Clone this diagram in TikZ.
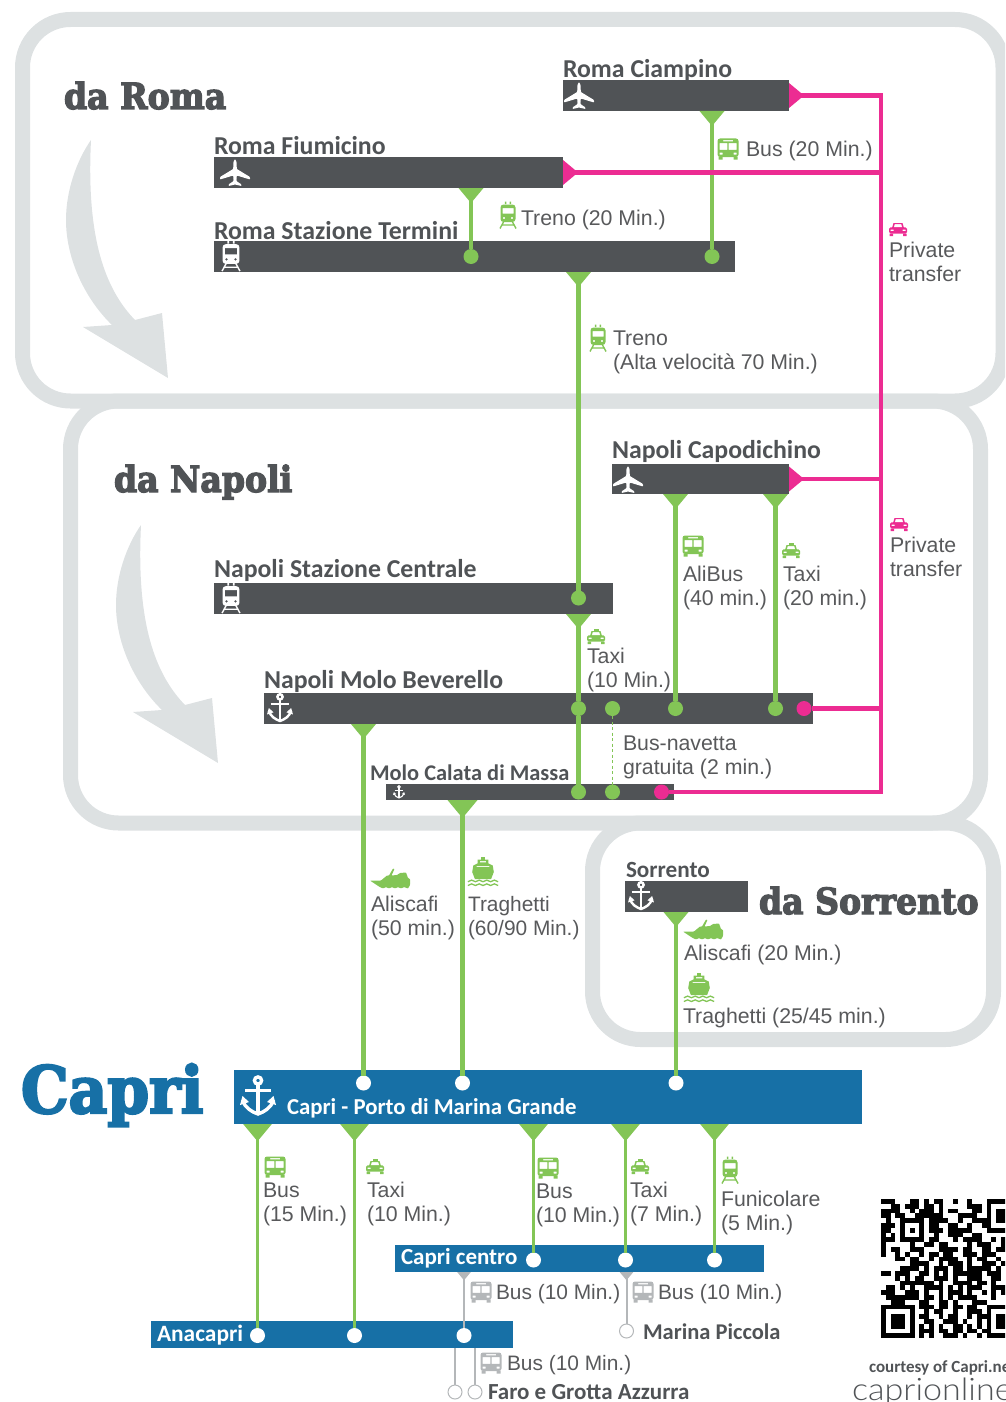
\documentclass[tikz,border=0pt]{standalone}
\usepackage{fontspec}
\setmainfont{Liberation Sans}
\newfontfamily\headfont{Carlito}
\newfontfamily\slabfont[FakeStretch=0.92, BoldFeatures={FakeBold=3.5}]{DejaVu Serif}
\newfontfamily\logofont[FakeStretch=1.1]{Lato Light}

\definecolor{panelgrey}{HTML}{DDE1E2}
\definecolor{bardark}{HTML}{505356}
\definecolor{portblue}{HTML}{1770A6}
\definecolor{routegreen}{HTML}{83C556}
\definecolor{transferpink}{HTML}{EC2C92}
\definecolor{linegrey}{HTML}{B4B7B9}
\definecolor{textgrey}{HTML}{58595B}

\tikzset{
    panel/.style = {draw = panelgrey, line width = 15pt, rounded corners = 48pt},
    bar/.style = {rectangle, inner sep = 0, outer sep = 0, fill = bardark, anchor = north west},
    bluebar/.style = {bar, fill = portblue},
    stopgreen/.style = {circle, inner sep = 0, outer sep = 0, minimum size = 15pt, fill = routegreen},
    stoppink/.style = {stopgreen, fill = transferpink},
    stopwhite/.style = {stopgreen, fill = white},
    stopring/.style = {stopgreen, fill = white, draw = linegrey, line width = 1pt, minimum size = 14pt},
    route/.style = {draw = routegreen, line width = 4.6pt},
    thinroute/.style = {draw = routegreen, line width = 2.6pt},
    greyroute/.style = {draw = linegrey, line width = 2pt},
    transfer/.style = {draw = transferpink, line width = 4.6pt},
    info/.style = {anchor = base west, inner sep = 0, outer sep = 0, align = left, text = textgrey,
        font = \fontsize{21.3pt}{24pt}\selectfont},
    infosmall/.style = {info, font = \fontsize{20.9pt}{24pt}\selectfont},
    stoplabel/.style = {anchor = base west, inner sep = 0, outer sep = 0, text = bardark,
        font = \fontsize{25.8pt}{30pt}\headfont\bfseries},
    smalllabel/.style = {stoplabel, font = \fontsize{#1}{28pt}\headfont\bfseries},
    portlabel/.style = {smalllabel = #1, text = white},
    title/.style = {anchor = base west, inner sep = 0, outer sep = 0, text = bardark,
        font = \fontsize{36pt}{40pt}\slabfont\bfseries},
    pics/tipdown/.style = {code = {\fill (-12.5, 0) -- (12.5, 0) -- (0, 15) -- cycle;}},
    pics/swoosh/.style = {code = {
        \fill (0, 0) .. controls (-14, 20) and (-25, 50) .. (-25, 80)
            .. controls (-25, 120) and (-5, 160) .. (21, 185)
            -- (-8, 187) -- (77, 238) -- (71, 173) -- (44, 180)
            .. controls (15, 150) and (-5, 100) .. (0, 0) -- cycle;}},
    pics/planeicon/.style = {code = {
        \fill[rounded corners = 0.8pt] (0, -14) -- (1.6, -11) -- (1.8, -4) -- (15, 4) -- (15, 6.5)
            -- (1.8, 2.5) -- (1.4, 8) -- (6.5, 11.5) -- (6.5, 13) -- (0, 11.5)
            -- (-6.5, 13) -- (-6.5, 11.5) -- (-1.4, 8) -- (-1.8, 2.5) -- (-15, 6.5)
            -- (-15, 4) -- (-1.8, -4) -- (-1.6, -11) -- cycle;}},
    pics/trainicon/.style = {code = {
        \fill[even odd rule] [rounded corners = 3pt] (-7.5, -10.5) rectangle (7.5, 7)
            [sharp corners] (-5.5, -7) rectangle (5.5, -1.5)
            (-4, 3) circle (1.3) (4, 3) circle (1.3);
        \fill (-3.2, -13.5) rectangle (-1.6, -11) (1.6, -13.5) rectangle (3.2, -11);
        \draw[line width = 1.4pt] (-4.5, 7) -- (-8, 13.5) (4.5, 7) -- (8, 13.5) (-6, 10) -- (6, 10);}},
    pics/busicon/.style = {code = {
        \fill[even odd rule] [rounded corners = 2.5pt] (-10.5, -10.5) rectangle (10.5, 8)
            [sharp corners] (-8.5, -6) rectangle (-0.6, 0.8) (0.6, -6) rectangle (8.5, 0.8)
            (-5, -9) rectangle (5, -7.6) (-8.5, 3.5) rectangle (-5.5, 5.5) (5.5, 3.5) rectangle (8.5, 5.5);
        \fill (-9.5, 8) rectangle (-5.5, 10.5) (5.5, 8) rectangle (9.5, 10.5);}},
    pics/caricon/.style = {code = {
        \fill[even odd rule] (-6, -1) -- (-4.5, -6) -- (4.5, -6) -- (6, -1) -- cycle
            (-4.2, -1.6) -- (-3.3, -4.8) -- (3.3, -4.8) -- (4.2, -1.6) -- cycle;
        \fill[even odd rule] [rounded corners = 1.5pt] (-9, -1.6) rectangle (9, 4.5)
            [sharp corners] (-7.5, 0.5) rectangle (-4.5, 2.2) (4.5, 0.5) rectangle (7.5, 2.2);
        \fill (-8.5, 4.5) rectangle (-5, 7) (5, 4.5) rectangle (8.5, 7);}},
    pics/taxiicon/.style = {code = {
        \pic {caricon};
        \fill (-2.5, -8) rectangle (2.5, -6);}},
    pics/hydroicon/.style = {code = {
        \fill[rounded corners = 0.6pt] (-20, 1.5) -- (-9, 1.5) -- (-3, -3.5) -- (-1, -3.5) -- (3, -10.5) -- (4.5, -10)
            -- (1.5, -3.5) -- (7, -4) -- (10, -6) -- (16, -6.5) -- (18, -1) -- (20, 0) -- (20, 6)
            -- (18, 9.5) -- (14, 8) -- (11, 9.5) -- (8, 8) -- (5, 9.5) -- (2, 8) -- (-1, 9.5) -- (-4, 8)
            -- (-7, 9.5) -- (-11, 7.5) -- cycle;}},
    pics/ferryicon/.style = {code = {
        \fill (-2, -14) rectangle (2, -11.5);
        \fill[even odd rule] (-5, -11.5) -- (5, -11.5) -- (5, -8) -- (9, -6) -- (10, 0) -- (7.5, 6.5) -- (-7.5, 6.5)
            -- (-10, 0) -- (-9, -6) -- (-5, -8) -- cycle
            (-3, -10) rectangle (3, -9) (-6, -5.5) rectangle (6, -4.5);
        \foreach \yy in {9, 12.5} {
            \draw[line width = 1.3pt] (-14, \yy) \foreach \xx in {-14, -7, 0, 7} {
                .. controls (\xx + 2, \yy - 2) and (\xx + 5, \yy - 2) .. (\xx + 7, \yy)};
        }}},
    pics/anchoricon/.style = {code = {
        \begin{scope}[scale = #1, line width = #1 * 3.4pt]
            \draw (0, -15.5) circle (3.6);
            \draw (0, -12) -- (0, 18) (-13, -5.5) -- (13, -5.5);
            \draw (-15.5, 4) .. controls (-13, 12) and (-6, 16) .. (0, 18)
                .. controls (6, 16) and (13, 12) .. (15.5, 4);
            \fill (-18, 9) -- (-15.5, 0) -- (-9, 6) -- cycle (18, 9) -- (15.5, 0) -- (9, 6) -- cycle;
        \end{scope}}},
}

\begin{document}
\begin{tikzpicture}[x = 1pt, y = -1pt]
    \clip (0, 0) rectangle (1005, 1402);

    \draw[panel] (22.5, 19.5) rectangle (1003, 401);
    \draw[panel] (70.5, 401) rectangle (980.5, 823);
    \draw[panel] (592.5, 823) rectangle (993.5, 1039.5);
    \pic[panelgrey] at (91, 140) {swoosh};
    \pic[panelgrey] at (141, 525) {swoosh};

    \node[title] (titleroma) at (64, 109) {da Roma};
    \node[title] (titlenapoli) at (114, 492) {da Napoli};
    \node[title] (titlesorrento) at (759, 914) {da Sorrento};
    \node[title, text = portblue, font = \fontsize{65pt}{70pt}\slabfont\bfseries] (titlecapri) at (21, 1113) {Capri};

    \node[bar, minimum width = 226pt, minimum height = 31pt] (ciampino) at (563, 80) {};
    \node[bar, minimum width = 349pt, minimum height = 31pt] (fiumicino) at (214, 157) {};
    \node[bar, minimum width = 521pt, minimum height = 31pt] (termini) at (214, 241) {};
    \node[bar, minimum width = 177pt, minimum height = 30pt] (capodichino) at (612, 464) {};
    \node[bar, minimum width = 399pt, minimum height = 31pt] (centrale) at (214, 583) {};
    \node[bar, minimum width = 549pt, minimum height = 31pt] (beverello) at (264, 693) {};
    \node[bar, minimum width = 288pt, minimum height = 16pt] (calata) at (386, 784) {};
    \node[bar, minimum width = 123pt, minimum height = 31pt] (sorrento) at (625, 881) {};
    \node[bluebar, minimum width = 628pt, minimum height = 54pt] (porto) at (234, 1070) {};
    \node[bluebar, minimum width = 369pt, minimum height = 27pt] (centro) at (395, 1245) {};
    \node[bluebar, minimum width = 362pt, minimum height = 27pt] (anacapri) at (151, 1321) {};

    \node[stoplabel] (labelciampino) at (563, 77.5) {Roma Ciampino};
    \node[stoplabel] (labelfiumicino) at (214, 154.5) {Roma Fiumicino};
    \node[stoplabel] (labeltermini) at (214, 239) {Roma Stazione Termini};
    \node[stoplabel] (labelcapodichino) at (612, 458) {Napoli Capodichino};
    \node[stoplabel] (labelcentrale) at (214, 577) {Napoli Stazione Centrale};
    \node[stoplabel] (labelbeverello) at (264, 688) {Napoli Molo Beverello};
    \node[smalllabel = 22.4pt] (labelcalata) at (370, 780) {Molo Calata di Massa};
    \node[smalllabel = 23.2pt] (labelsorrento) at (626, 877) {Sorrento};
    \node[portlabel = 22.8pt] (labelporto) at (287, 1114) {Capri - Porto di Marina Grande};
    \node[portlabel = 23pt] (labelcentro) at (401, 1264) {Capri centro};
    \node[portlabel = 23.4pt] (labelanacapri) at (157, 1341) {Anacapri};
    \node[smalllabel = 22.5pt] (labelpiccola) at (643, 1339) {Marina Piccola};
    \node[smalllabel = 23pt] (labelfaro) at (488, 1399) {Faro e Grotta Azzurra};

    \node[stopgreen] (terminia) at (471, 256.5) {};
    \node[stopgreen] (terminib) at (712, 256.5) {};
    \node[stopgreen] (centralea) at (578.5, 598) {};
    \node[stopgreen] (beverelloa) at (578.5, 708.5) {};
    \node[stopgreen] (beverellob) at (612.5, 708.5) {};
    \node[stopgreen] (beverelloc) at (675.5, 708.5) {};
    \node[stopgreen] (beverellod) at (775.5, 708.5) {};
    \node[stoppink] (beverellop) at (804, 708.5) {};
    \node[stopgreen] (calataa) at (578.5, 792) {};
    \node[stopgreen] (calatab) at (612.5, 792) {};
    \node[stoppink] (calatap) at (661.5, 792) {};
    \node[stopwhite] (portoa) at (363.5, 1083) {};
    \node[stopwhite] (portob) at (462.5, 1083) {};
    \node[stopwhite] (portoc) at (676, 1083) {};
    \node[stopwhite] (centroa) at (533.5, 1260) {};
    \node[stopwhite] (centrob) at (625.5, 1260) {};
    \node[stopwhite] (centroc) at (714.5, 1260) {};
    \node[stopwhite] (anacapria) at (257.5, 1335.5) {};
    \node[stopwhite] (anacaprib) at (354.5, 1335.5) {};
    \node[stopwhite] (anacapric) at (464, 1335.5) {};
    \node[stopring] (piccola) at (626.5, 1331) {};
    \node[stopring] (faroa) at (455, 1392) {};
    \node[stopring] (farob) at (475, 1392) {};

    \draw[route] (ciampino.south -| terminib) -- (terminib);
    \draw[route] (fiumicino.south -| terminia) -- (terminia);
    \draw[route] (termini.south -| centralea) -- (centralea);
    \draw[route] (centrale.south -| beverelloa) -- (beverelloa);
    \draw[route] (beverelloa) -- (calataa);
    \draw[route] (capodichino.south -| beverelloc) -- (beverelloc);
    \draw[route] (capodichino.south -| beverellod) -- (beverellod);
    \draw[route] (beverello.south -| portoa) -- (portoa.north);
    \draw[route] (calata.south -| portob) -- (portob.north);
    \draw[route] (sorrento.south -| portoc) -- (portoc.north);
    \draw[routegreen, line width = 1.4pt, dashed, dash pattern = on 3pt off 2.5pt] (beverellob) -- (calatab);

    \draw[thinroute] (porto.south -| anacapria) -- (anacapria.north);
    \draw[thinroute] (porto.south -| anacaprib) -- (anacaprib.north);
    \draw[thinroute] (porto.south -| centroa) -- (centroa.north);
    \draw[thinroute] (porto.south -| centrob) -- (centrob.north);
    \draw[thinroute] (porto.south -| centroc) -- (centroc.north);
    \draw[greyroute] (centro.south -| anacapric) -- (anacapric.north);
    \draw[greyroute] (centro.south -| piccola) -- (piccola.north);
    \draw[greyroute] (anacapri.south -| faroa) -- (faroa.north);
    \draw[greyroute] (anacapri.south -| farob) -- (farob.north);

    \pic[routegreen] at (ciampino.south -| terminib) {tipdown};
    \pic[routegreen] at (fiumicino.south -| terminia) {tipdown};
    \pic[routegreen] at (termini.south -| centralea) {tipdown};
    \pic[routegreen] at (centrale.south -| beverelloa) {tipdown};
    \pic[routegreen] at (capodichino.south -| beverelloc) {tipdown};
    \pic[routegreen] at (capodichino.south -| beverellod) {tipdown};
    \pic[routegreen] at (beverello.south -| portoa) {tipdown};
    \pic[routegreen, scale = 1.2] at (calata.south -| portob) {tipdown};
    \pic[routegreen] at (sorrento.south -| portoc) {tipdown};
    \pic[routegreen, scale = 1.15] at (porto.south -| anacapria) {tipdown};
    \pic[routegreen, scale = 1.15] at (porto.south -| anacaprib) {tipdown};
    \pic[routegreen, scale = 1.15] at (porto.south -| centroa) {tipdown};
    \pic[routegreen, scale = 1.15] at (porto.south -| centrob) {tipdown};
    \pic[routegreen, scale = 1.15] at (porto.south -| centroc) {tipdown};
    \pic[linegrey, scale = 0.55] at (centro.south -| anacapric) {tipdown};
    \pic[linegrey, scale = 0.55] at (centro.south -| piccola) {tipdown};

    \coordinate (transfertop) at (881, 95.5);
    \coordinate (transferlow) at (881, 792);
    \draw[transfer] (ciampino.east) -- (transfertop) -- (transferlow) -- (calatap);
    \draw[transfer] (fiumicino.east) -- (fiumicino.east -| transfertop);
    \draw[transfer] (capodichino.east) -- (capodichino.east -| transfertop);
    \draw[transfer] (beverellop) -- (beverellop -| transfertop);
    \pic[transferpink, rotate = 90] at (ciampino.east) {tipdown};
    \pic[transferpink, rotate = 90] at (fiumicino.east) {tipdown};
    \pic[transferpink, rotate = 90] at (capodichino.east) {tipdown};

    \node[info] (busciampino) at (746, 157) {Bus (20 Min.)};
    \node[info] (trenotermini) at (521, 225) {Treno (20 Min.)};
    \node[info] (trenoalta) at (613, 369) {Treno\\(Alta velocità 70 Min.)};
    \node[info] (privatea) at (889, 281) {Private\\transfer};
    \node[info] (privateb) at (890, 576) {Private\\transfer};
    \node[info] (alibus) at (683, 605) {AliBus\\(40 min.)};
    \node[info] (taxicapo) at (783, 605) {Taxi\\(20 min.)};
    \node[info] (taximolo) at (587, 687) {Taxi\\(10 Min.)};
    \node[info] (navetta) at (623, 774) {Bus-navetta\\gratuita (2 min.)};
    \node[info] (aliscafia) at (371, 935) {Aliscafi\\(50 min.)};
    \node[infosmall] (traghettia) at (468, 935) {Traghetti\\(60/90 Min.)};
    \node[info] (aliscafib) at (684, 960) {Aliscafi (20 Min.)};
    \node[info] (traghettib) at (683, 1023) {Traghetti (25/45 min.)};
    \node[info] (busana) at (263, 1221) {Bus\\(15 Min.)};
    \node[info] (taxiana) at (367, 1221) {Taxi\\(10 Min.)};
    \node[info] (buscentro) at (536, 1222) {Bus\\(10 Min.)};
    \node[info] (taxicentro) at (630, 1221) {Taxi\\(7 Min.)};
    \node[info] (funicolare) at (721, 1230) {Funicolare\\(5 Min.)};
    \node[infosmall] (busgreya) at (496, 1299) {Bus (10 Min.)};
    \node[infosmall] (busgreyb) at (658, 1299) {Bus (10 Min.)};
    \node[infosmall] (busgreyc) at (507, 1370) {Bus (10 Min.)};

    \pic[white] at (579, 96) {planeicon};
    \pic[white] at (235, 173) {planeicon};
    \pic[white] at (628, 480) {planeicon};
    \pic[white, scale = 1.12] at (231, 256) {trainicon};
    \pic[white, scale = 1.12] at (231, 598) {trainicon};
    \pic[white] at (280, 708) {anchoricon = 0.72};
    \pic[white] at (399, 792) {anchoricon = 0.33};
    \pic[white] at (641, 896) {anchoricon = 0.72};
    \pic[white] at (258, 1096) {anchoricon = 1};

    \pic[routegreen] at (728, 149) {busicon};
    \pic[routegreen] at (508, 215) {trainicon};
    \pic[routegreen] at (598, 338) {trainicon};
    \pic[transferpink] at (898, 229) {caricon};
    \pic[transferpink] at (899, 524) {caricon};
    \pic[routegreen] at (693, 546) {busicon};
    \pic[routegreen] at (791, 551) {taxiicon};
    \pic[routegreen] at (596, 637) {taxiicon};
    \pic[routegreen] at (390, 879) {hydroicon};
    \pic[routegreen, scale = 1.08] at (483, 872) {ferryicon};
    \pic[routegreen] at (703, 930) {hydroicon};
    \pic[routegreen, scale = 1.08] at (699, 988) {ferryicon};
    \pic[routegreen] at (275, 1167) {busicon};
    \pic[routegreen] at (375, 1167) {taxiicon};
    \pic[routegreen] at (548, 1168) {busicon};
    \pic[routegreen] at (640, 1167) {taxiicon};
    \pic[routegreen] at (730, 1170) {trainicon};
    \pic[linegrey] at (481, 1292) {busicon};
    \pic[linegrey] at (643, 1292) {busicon};
    \pic[linegrey] at (491, 1363) {busicon};

    \foreach \row/\runs in {
        0/{0/3, 6/2, 9/1, 11/2, 15/1, 18/1, 22/7},
        1/{2/2, 5/3, 9/2, 12/1, 18/3, 22/1},
        2/{0/4, 6/1, 8/3, 12/1, 14/2, 19/2, 22/1, 24/3},
        3/{0/2, 3/2, 7/6, 16/4, 22/1, 24/3},
        4/{1/1, 4/5, 10/3, 13/1, 16/1, 19/3, 22/1, 24/3},
        5/{0/3, 4/1, 8/1, 10/2, 14/2, 18/1, 21/2},
        6/{0/2, 4/1, 6/1, 8/1, 10/3, 14/5, 22/4},
        7/{0/1, 2/1, 4/1, 8/1, 11/1, 14/3, 19/2},
        8/{0/3, 4/5, 10/2, 15/1, 17/4, 23/1, 25/1},
        9/{0/1, 6/1, 9/2, 12/2, 18/1, 20/3, 25/1},
        10/{0/1, 2/2, 6/3, 12/4, 17/2, 21/2, 24/2},
        11/{0/1, 3/1, 5/1, 8/1, 10/2, 13/2, 17/3, 21/3},
        12/{3/2, 6/2, 10/1, 12/4, 18/1, 20/2, 24/1},
        13/{6/3, 9/1, 12/1, 14/3, 18/1, 21/3, 25/1},
        14/{4/4, 9/1, 11/3, 15/2, 18/4, 22/1, 24/1},
        15/{0/2, 3/3, 8/2, 11/1, 13/1, 15/5, 20/1, 22/3},
        16/{3/1, 5/1, 7/2, 11/3, 15/1, 18/3, 23/2},
        17/{4/6, 10/1, 12/1, 15/4, 20/2, 23/1},
        18/{1/2, 4/1, 6/1, 9/4, 14/1, 16/1, 18/3, 23/3},
        19/{0/3, 5/3, 9/1, 12/1, 14/3, 18/1, 21/1, 23/1, 25/1},
        20/{1/7, 9/2, 12/1, 14/1, 16/2, 18/2, 23/1},
        21/{2/3, 8/2, 12/2, 15/1, 19/3},
        22/{0/7, 8/3, 12/2, 15/2, 18/2, 22/4},
        23/{0/1, 6/1, 9/1, 11/2, 15/1, 18/3, 22/1},
        24/{0/1, 2/3, 6/1, 8/2, 12/1, 14/2, 18/1, 20/3, 24/2},
        25/{0/1, 2/3, 6/1, 9/2, 13/3, 17/1, 20/1, 22/1, 24/2},
        26/{0/1, 2/3, 6/1, 8/1, 10/1, 12/1, 15/2, 18/1, 20/1, 22/1, 24/2},
        27/{0/1, 6/1, 8/3, 12/2, 15/2, 18/2, 21/2},
        28/{0/7, 8/1, 10/1, 13/3, 17/1, 20/1, 22/4}}
        \foreach \col/\len in \runs
            \fill (881 + 4.8 * \col, 1199 + 4.8 * \row) rectangle ++(4.8 * \len, 4.8);

    \node[smalllabel = 17pt] (courtesy) at (869, 1372) {courtesy of Capri.net};
    \node[stoplabel, font = \fontsize{31pt}{34pt}\logofont] (logo) at (852, 1400) {caprionline};
\end{tikzpicture}
\end{document}
